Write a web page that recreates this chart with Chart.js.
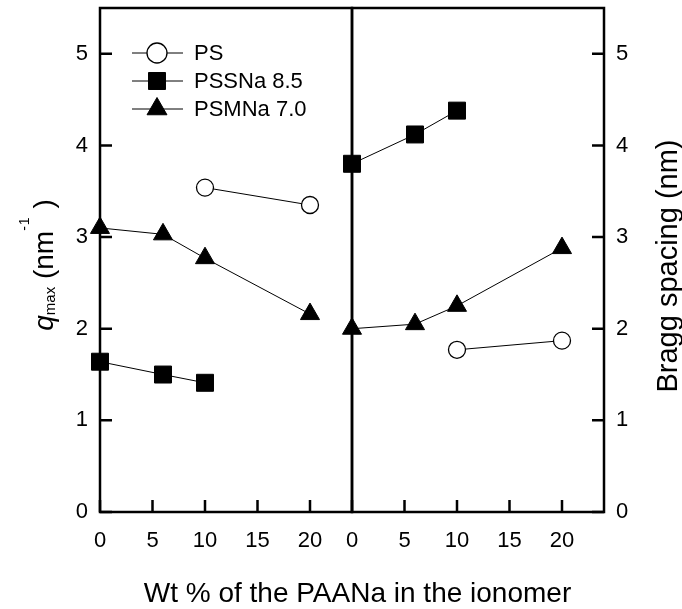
<!DOCTYPE html>
<html>
<head>
<meta charset="utf-8">
<script src="https://cdn.jsdelivr.net/npm/chart.js@4.4.1/dist/chart.umd.min.js"></script>
<style>
  html, body { margin: 0; padding: 0; background: #fff; }
  #wrap { position: relative; width: 682px; height: 609px; overflow: hidden; background: #fff; }
  canvas { position: absolute; top: 0; }
  .ttl { position: absolute; font-family: 'Liberation Sans', Arial, sans-serif; font-size: 28px; line-height: 28px; height: 28px; white-space: nowrap; color: #000; text-align: center; }
  .ttl sub { font-size: 15px; line-height: 0; vertical-align: -2px; }
  .ttl sup { font-size: 14px; line-height: 0; vertical-align: 24px; letter-spacing: 1px; }
</style>
</head>
<body>
<div id="wrap">
  <canvas id="leftPanel" width="360" height="609" style="left:0px"></canvas>
  <canvas id="rightPanel" width="360" height="609" style="left:322px"></canvas>
  <div class="ttl" id="xTitle" style="left:0px; top:579px; width:715px;">Wt % of the PAANa in the ionomer</div>
  <div class="ttl" id="yTitleLeft" style="left:-111.7px; top:251px; width:300px; transform: rotate(-90deg);"><i>q</i><sub>max</sub> (nm<sup>-1</sup> )</div>
  <div class="ttl" id="yTitleRight" style="left:517px; top:252px; width:300px; font-size:29px; transform: rotate(-90deg);">Bragg spacing (nm)</div>
</div>
<script>
// ---- Data ----
const xTicks = [0, 5, 10, 15, 20];
const yTicks = [0, 1, 2, 3, 4, 5];
const seriesNames = ['PS', 'PSSNa 8.5', 'PSMNa 7.0'];

// Left panel: q_max (nm^-1)
const psLeftX = [10, 20];
const psLeftQ = [3.54, 3.35];
const pssnaLeftX = [0, 6, 10];
const pssnaLeftQ = [1.64, 1.50, 1.41];
const psmnaLeftX = [0, 6, 10, 20];
const psmnaLeftQ = [3.10, 3.03, 2.77, 2.16];

// Right panel: Bragg spacing (nm)
const psRightX = [10, 20];
const psBragg = [1.77, 1.87];
const pssnaRightX = [0, 6, 10];
const pssnaBragg = [3.80, 4.12, 4.38];
const psmnaRightX = [0, 6, 10, 20];
const psmnaBragg = [2.00, 2.05, 2.25, 2.88];

// ---- Helpers ----
const FONT = "'Liberation Sans', Arial, sans-serif";
Chart.defaults.font.family = FONT;
Chart.defaults.color = '#000';

function pts(xs, ys) { return xs.map((x, i) => ({ x: x, y: ys[i] })); }

const styles = [
  { pointStyle: 'circle', pointRadius: 8.5, legendRadius: 10, pointBackgroundColor: '#fff', pointBorderWidth: 1.3 },
  { pointStyle: 'rect', pointRadius: 12, legendRadius: 12, pointBackgroundColor: '#000', pointBorderWidth: 1 },
  { pointStyle: 'triangle', pointRadius: 11, legendRadius: 11.5, pointBackgroundColor: '#000', pointBorderWidth: 1 }
];

function makeDatasets(seriesData) {
  return seriesData.map((d, i) => Object.assign({
    label: seriesNames[i],
    data: d,
    showLine: true,
    borderColor: '#000',
    borderWidth: 1,
    pointBorderColor: '#000',
    pointHoverRadius: styles[i].pointRadius,
    clip: false,
    order: 0
  }, styles[i]));
}

function zeroPad(s) { s.paddingLeft = 0; s.paddingRight = 0; s.paddingTop = 0; s.paddingBottom = 0; }

const framePlugin = {
  id: 'frame',
  beforeDatasetsDraw(chart, args, opts) {
    const { ctx, chartArea: a, scales } = chart;
    ctx.save();
    ctx.strokeStyle = '#000';
    ctx.lineWidth = 2.5;
    ctx.strokeRect(a.left, a.top, a.right - a.left, a.bottom - a.top);
    const TL = 12;
    ctx.beginPath();
    scales.x.ticks.forEach(t => {
      const px = scales.x.getPixelForValue(t.value);
      ctx.moveTo(px, a.bottom);
      ctx.lineTo(px, a.bottom - TL);
    });
    scales.y.ticks.forEach(t => {
      const py = scales.y.getPixelForValue(t.value);
      if (opts.side === 'left') { ctx.moveTo(a.left, py); ctx.lineTo(a.left + TL, py); }
      else { ctx.moveTo(a.right, py); ctx.lineTo(a.right - TL, py); }
    });
    ctx.stroke();
    ctx.restore();
  }
};

function drawMarker(ctx, style, r, bw, x, y) {
  if (Chart.helpers && Chart.helpers.drawPoint) {
    Chart.helpers.drawPoint(ctx, { pointStyle: style, radius: r, borderWidth: bw, rotation: 0 }, x, y);
    return;
  }
  ctx.beginPath();
  if (style === 'circle') ctx.arc(x, y, r, 0, Math.PI * 2);
  else if (style === 'rect') { const s = Math.SQRT1_2 * r; ctx.rect(x - s, y - s, 2 * s, 2 * s); }
  else { ctx.moveTo(x, y - r); ctx.lineTo(x + r * Math.sqrt(3) / 2, y + r / 2); ctx.lineTo(x - r * Math.sqrt(3) / 2, y + r / 2); ctx.closePath(); }
  ctx.fill(); ctx.stroke();
}

const legendPlugin = {
  id: 'lineLegend',
  afterDatasetsDraw(chart, args, opts) {
    if (!opts.show) return;
    const ctx = chart.ctx;
    ctx.save();
    chart.data.datasets.forEach((ds, i) => {
      const y = opts.y0 + i * opts.dy;
      ctx.strokeStyle = '#000';
      ctx.lineWidth = 1;
      ctx.beginPath();
      ctx.moveTo(opts.x0, y);
      ctx.lineTo(opts.x1, y);
      ctx.stroke();
      ctx.fillStyle = ds.pointBackgroundColor;
      ctx.strokeStyle = '#000';
      ctx.lineWidth = ds.pointBorderWidth;
      drawMarker(ctx, ds.pointStyle, ds.legendRadius, ds.pointBorderWidth, opts.xm, y);
      ctx.fillStyle = '#000';
      ctx.font = '22px ' + FONT;
      ctx.textBaseline = 'middle';
      ctx.textAlign = 'left';
      ctx.fillText(ds.label, opts.xt, y + 1);
    });
    ctx.restore();
  }
};

function makeOptions(side, showLegend) {
  const yScale = {
    type: 'linear',
    position: side,
    min: 0, max: 5.5,
    afterBuildTicks: s => { s.ticks = yTicks.map(v => ({ value: v })); },
    grid: { display: false, drawTicks: false },
    border: { display: false },
    ticks: { font: { size: 22 }, color: '#000', padding: 12 },
    afterFit: s => { s.width = side === 'left' ? 100 : 78; zeroPad(s); }
  };
  return {
    responsive: false,
    animation: false,
    events: [],
    layout: { autoPadding: false, padding: side === 'left' ? { top: 8, right: 8, left: 0, bottom: 0 } : { top: 8, right: 0, left: 30, bottom: 0 } },
    scales: {
      x: {
        type: 'linear',
        min: 0, max: 24,
        afterBuildTicks: s => { s.ticks = xTicks.map(v => ({ value: v })); },
        grid: { display: false, drawTicks: false },
        border: { display: false },
        ticks: { font: { size: 22 }, color: '#000', padding: 16, maxRotation: 0 },
        afterFit: s => { s.height = 97; zeroPad(s); }
      },
      y: yScale
    },
    plugins: {
      legend: { display: false },
      tooltip: { enabled: false },
      frame: { side: side },
      lineLegend: { show: showLegend, x0: 132, x1: 183, xm: 157, xt: 194, y0: 53, dy: 28 }
    }
  };
}

new Chart(document.getElementById('leftPanel'), {
  type: 'scatter',
  data: { datasets: makeDatasets([pts(psLeftX, psLeftQ), pts(pssnaLeftX, pssnaLeftQ), pts(psmnaLeftX, psmnaLeftQ)]) },
  options: makeOptions('left', true),
  plugins: [framePlugin, legendPlugin]
});

new Chart(document.getElementById('rightPanel'), {
  type: 'scatter',
  data: { datasets: makeDatasets([pts(psRightX, psBragg), pts(pssnaRightX, pssnaBragg), pts(psmnaRightX, psmnaBragg)]) },
  options: makeOptions('right', false),
  plugins: [framePlugin, legendPlugin]
});
</script>
</body>
</html>
